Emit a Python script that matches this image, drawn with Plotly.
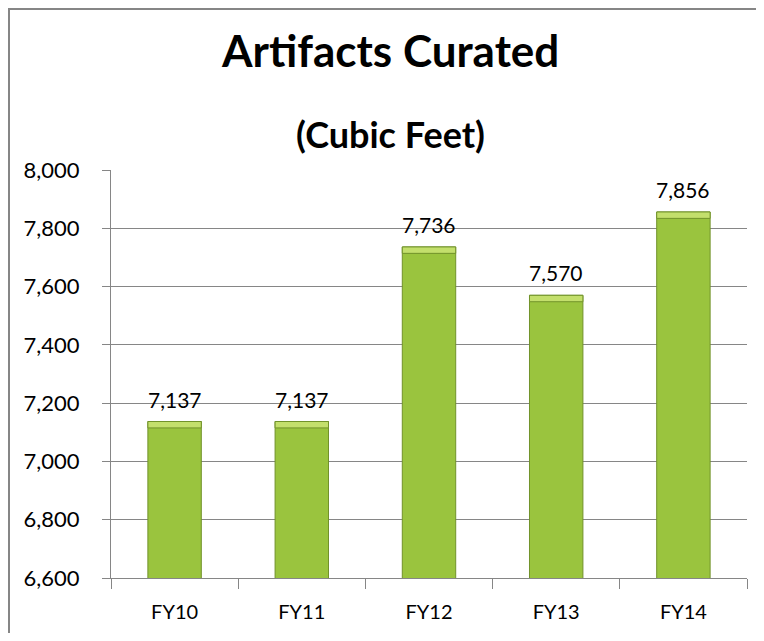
import plotly.graph_objects as go

years = ["FY10", "FY11", "FY12", "FY13", "FY14"]
cubic_feet = [7137, 7137, 7736, 7570, 7856]
y_ticks = [6600, 6800, 7000, 7200, 7400, 7600, 7800, 8000]

FONT = "Lato"
GRID = "#868686"

# page body has an 8px margin, so the figure is sized to fit inside it
W, H = 748, 625
L, R, T, B = 103, 9, 162, 55
pw, ph = W - L - R, H - T - B

# bevel cap height in data units (styling only)
cap = 22


def px_x(x):
    return (x - L) / pw


def px_y(y):
    return (H - B - y) / ph


fig = go.Figure()

fig.add_trace(go.Bar(
    x=years,
    y=cubic_feet,
    width=0.42,
    marker=dict(color="#9ac43e", line=dict(color="#71922a", width=1)),
    hovertemplate="%{x}: %{y:,}<extra></extra>",
))

fig.add_trace(go.Bar(
    x=years,
    y=[cap] * len(cubic_feet),
    base=[v - cap for v in cubic_feet],
    width=0.42,
    marker=dict(color="#c3df6c", line=dict(color="#71922a", width=1)),
    hoverinfo="skip",
))

annotations = [
    dict(text="<b>Artifacts Curated</b>", xref="paper", yref="paper",
         x=px_x(382), y=px_y(42), xanchor="center", yanchor="middle",
         showarrow=False, font=dict(family=FONT, size=44)),
    dict(text="<b>(Cubic Feet)</b>", xref="paper", yref="paper",
         x=px_x(382), y=px_y(126), xanchor="center", yanchor="middle",
         showarrow=False, font=dict(family=FONT, size=36)),
]
for yr, v in zip(years, cubic_feet):
    annotations.append(dict(
        x=yr, y=v, text=f"{v:,}", showarrow=False,
        xanchor="center", yanchor="bottom", yshift=8,
        font=dict(family=FONT, size=21, color="#000000"),
    ))

fig.update_layout(
    width=W,
    height=H,
    barmode="overlay",
    showlegend=False,
    paper_bgcolor="white",
    plot_bgcolor="white",
    margin=dict(l=L, r=R, t=T, b=B),
    font=dict(family=FONT, color="#000000"),
    annotations=annotations,
    shapes=[
        # chart frame, only top and left edges fall inside the window
        dict(type="line", xref="paper", yref="paper",
             x0=px_x(0), x1=px_x(W), y0=px_y(1), y1=px_y(1),
             line=dict(color=GRID, width=2), layer="below"),
        dict(type="line", xref="paper", yref="paper",
             x0=px_x(1), x1=px_x(1), y0=px_y(0), y1=px_y(H),
             line=dict(color=GRID, width=2), layer="below"),
    ],
)

fig.update_xaxes(
    showline=True, linecolor=GRID, linewidth=1,
    ticks="outside", tickson="boundaries", ticklen=10, tickcolor=GRID,
    tickfont=dict(family=FONT, size=20),
    ticklabelstandoff=16,
    showgrid=False,
)

fig.update_yaxes(
    range=[6600, 8000],
    tickvals=y_ticks,
    ticktext=[f"{v:,}" for v in y_ticks],
    showline=True, linecolor=GRID, linewidth=1,
    ticks="outside", ticklen=8, tickcolor=GRID,
    ticklabelstandoff=18,
    showgrid=True, gridcolor=GRID, gridwidth=1,
    tickfont=dict(family=FONT, size=22),
    zeroline=False,
)

fig.write_html("out.html")
